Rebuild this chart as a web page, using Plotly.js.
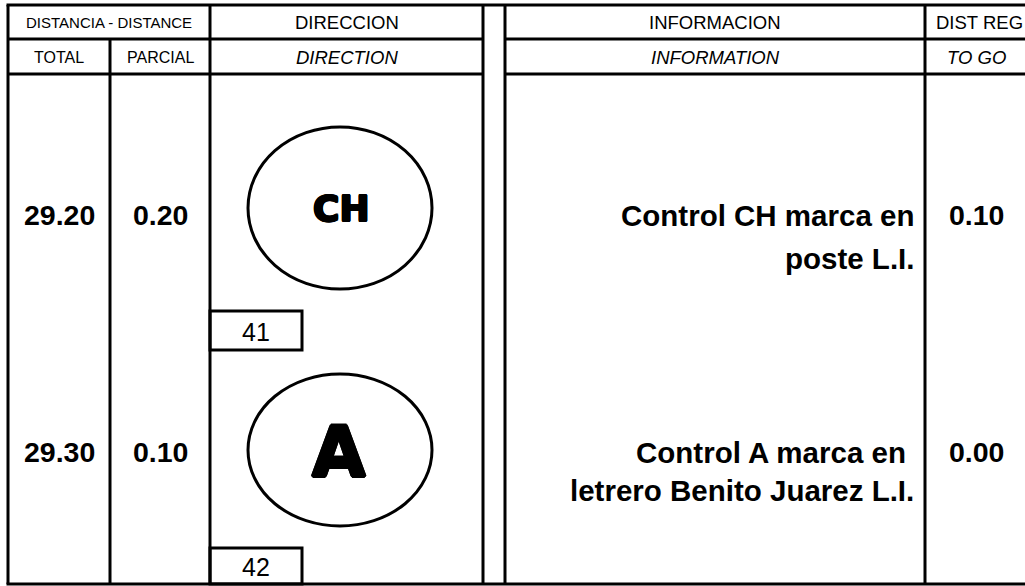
<!DOCTYPE html>
<html>
<head>
<meta charset="utf-8">
<script src="https://cdn.plot.ly/plotly-3.0.1.min.js"></script>
<style>html,body{margin:0;padding:0;background:#fff;}#chart{width:1025px;height:586px;}</style>
</head>
<body>
<div id="chart"></div>
<script>
// ---- data ----
const totals = ['29.20', '29.30'];
const partials = ['0.20', '0.10'];
const directionSymbols = ['CH', 'A'];
const boxNumbers = ['41', '42'];
const infoLine1 = ['Control CH marca en', 'Control A marca en '];
const infoLine2 = ['poste L.I.', 'letrero Benito Juarez L.I.'];
const toGo = ['0.10', '0.00'];
const headerTop = ['DISTANCIA - DISTANCE', 'DIRECCION', 'INFORMACION', 'DIST REG'];
const headerSub = ['TOTAL', 'PARCIAL', 'DIRECTION', 'INFORMATION', 'TO GO'];

// ---- layout geometry (pixel-like axis units) ----
const W = 1025, H = 586;
const colX = {left: 8, totalDiv: 110, dir: 210, dirEnd: 483, gapEnd: 505, info: 925, right: 1040};
const rowY = {top: 5, h1: 39, h2: 74, bottom: 584};
const rowCenter = [215, 452];
const line2Offset = [43, 38];
const symbolCenter = [
  {cy: 208, rx: 92, ry: 81, size: 36, shadow: 1, tx: 341, ty: 208},
  {cy: 450, rx: 92, ry: 76, size: 69, shadow: 1.6, tx: 339, ty: 452}
];
const symbolCx = 340;
const boxTop = [311, 548], boxBottom = [350, 584], boxRight = 302;

const LW = 3;
const shapes = [];
function ln(x0, y0, x1, y1) {
  shapes.push({type: 'line', xref: 'x', yref: 'y', x0, y0, x1, y1, line: {color: '#000', width: LW}});
}
// horizontal lines
ln(colX.left - 1.5, rowY.top, colX.right, rowY.top);
ln(colX.left - 1.5, rowY.bottom, colX.right, rowY.bottom);
ln(colX.left, rowY.h1, colX.dirEnd, rowY.h1);
ln(colX.gapEnd, rowY.h1, colX.right, rowY.h1);
ln(colX.left, rowY.h2, colX.dirEnd, rowY.h2);
ln(colX.gapEnd, rowY.h2, colX.right, rowY.h2);
// vertical lines
ln(colX.left, rowY.top, colX.left, rowY.bottom);
ln(colX.totalDiv, rowY.h1, colX.totalDiv, rowY.bottom);
[colX.dir, colX.dirEnd, colX.gapEnd, colX.info].forEach(x => ln(x, rowY.top, x, rowY.bottom));
// symbol ellipses and number boxes
directionSymbols.forEach((s, i) => {
  const c = symbolCenter[i];
  shapes.push({type: 'circle', xref: 'x', yref: 'y', x0: symbolCx - c.rx, x1: symbolCx + c.rx,
    y0: c.cy - c.ry, y1: c.cy + c.ry, line: {color: '#000', width: LW}, fillcolor: 'rgba(0,0,0,0)'});
  shapes.push({type: 'rect', xref: 'x', yref: 'y', x0: colX.dir, x1: boxRight,
    y0: boxTop[i], y1: boxBottom[i], line: {color: '#000', width: LW}, fillcolor: 'rgba(0,0,0,0)'});
});

const FONT = 'Liberation Sans, Arial, sans-serif';
const annotations = [];
function txt(text, x, y, size, opts) {
  opts = opts || {};
  const font = {family: opts.family || FONT, size, color: '#000', weight: opts.weight || 'normal', style: opts.style || 'normal'};
  if (opts.shadow) font.shadow = opts.shadow;
  annotations.push(Object.assign({
    text, x, y, xref: 'x', yref: 'y', showarrow: false,
    xanchor: 'center', yanchor: 'middle', font
  }, opts.extra || {}));
}
function thick(px) {
  const s = [];
  const d = +(px * 0.7).toFixed(2);
  for (const [dx, dy] of [[px,0],[-px,0],[0,px],[0,-px],[d,d],[-d,d],[d,-d],[-d,-d]]) {
    s.push(dx + 'px ' + dy + 'px 0 #000');
  }
  return s.join(', ');
}
// headers
const hY1 = 22, hY2 = 57;
txt(headerTop[0], (colX.left + colX.dir) / 2, hY1, 15);
txt(headerTop[1], (colX.dir + colX.dirEnd) / 2, hY1, 18.5);
txt(headerTop[2], (colX.gapEnd + colX.info) / 2, hY1, 18.5);
txt(headerTop[3], 979, hY1, 18.5);
txt(headerSub[0], (colX.left + colX.totalDiv) / 2, hY2, 16);
txt(headerSub[1], (colX.totalDiv + colX.dir) / 2, hY2, 16);
txt(headerSub[2], (colX.dir + colX.dirEnd) / 2, hY2, 18.5, {style: 'italic'});
txt(headerSub[3], (colX.gapEnd + colX.info) / 2, hY2, 18.5, {style: 'italic'});
txt(headerSub[4], 976, hY2, 18.5, {style: 'italic'});

// rows
totals.forEach((t, i) => {
  const y = rowCenter[i];
  const c = symbolCenter[i];
  txt(t, (colX.left + colX.totalDiv) / 2, y, 28.5, {weight: 'bold'});
  txt(partials[i], (colX.totalDiv + colX.dir) / 2, y, 28.5, {weight: 'bold'});
  txt(directionSymbols[i], c.tx, c.ty, c.size,
      {family: 'DejaVu Sans, sans-serif', weight: 'bold', shadow: thick(c.shadow)});
  txt(boxNumbers[i], 256, (boxTop[i] + boxBottom[i]) / 2 + 1, 25);
  txt(infoLine1[i].trim(), 916 - (infoLine1[i].endsWith(' ') ? 8 : 0), y, 29.5,
      {weight: 'bold', extra: {xanchor: 'right'}});
  txt(infoLine2[i], 916, y + line2Offset[i], 29.5, {weight: 'bold', extra: {xanchor: 'right'}});
  txt(toGo[i], 976, y, 28.5, {weight: 'bold'});
});

const layout = {
  width: W, height: H,
  margin: {l: 0, r: 0, t: 0, b: 0, pad: 0},
  paper_bgcolor: '#fff', plot_bgcolor: '#fff',
  xaxis: {range: [0, W], visible: false, fixedrange: true},
  yaxis: {range: [H, 0], visible: false, fixedrange: true},
  showlegend: false,
  shapes, annotations
};
Plotly.newPlot('chart', [], layout, {displayModeBar: false, staticPlot: true});
</script>
</body>
</html>
